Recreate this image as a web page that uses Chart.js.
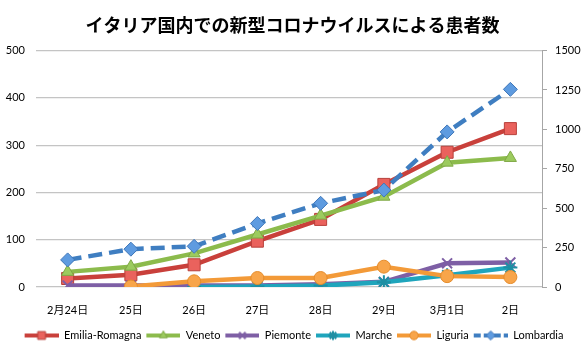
<!DOCTYPE html>
<html>
<head>
<meta charset="utf-8">
<script src="https://cdn.jsdelivr.net/npm/chart.js@4"></script>
<style>
  body { margin: 0; background: #fff; }
  #wrap { width: 585px; height: 345px; }
</style>
</head>
<body>
<div id="wrap"><canvas id="myChart" width="585" height="345"></canvas></div>
<script>
// x-axis labels (dates)
var days = ['2月24日', '25日', '26日', '27日', '28日', '29日', '3月1日', '2日'];
// patients per region (left axis)
var emilia = [18, 26, 47, 97, 143, 217, 285, 335];
var veneto = [32, 43, 71, 111, 151, 191, 263, 273];
var piemonte = [3, 3, 3, 3, 6, 11, 50, 52];
var marche = [null, null, 0, 1, 3, 10, 25, 41];
var liguria = [null, 1, 12, 19, 19, 43, 23, 21];
// Lombardia uses the right axis
var lombardia = [172, 240, 258, 403, 531, 615, 984, 1254];
// axis ticks
var leftMax = 500, leftStep = 100;
var rightMax = 1500, rightStep = 250;

var FONT = 'Lato, "Noto Sans CJK JP", sans-serif';

function series(label, data, color, fill, border, style, radius, axis, order, dash) {
    return {
        label: label,
        data: data,
        yAxisID: axis,
        borderColor: color,
        backgroundColor: fill,
        borderWidth: 4.5,
        borderDash: dash || [],
        pointStyle: style,
        pointRadius: radius,
        pointHoverRadius: radius,
        pointBackgroundColor: fill,
        pointBorderColor: border,
        pointBorderWidth: (style === 'crossRot' || style === 'star') ? 2 : 1,
        tension: 0,
        fill: false,
        spanGaps: false,
        order: order
    };
}

// small line+marker icon for the legend (3px blank on the left as item spacing)
function legendIcon(ds) {
    var c = document.createElement('canvas');
    c.width = 37; c.height = 14;
    var g = c.getContext('2d');
    g.strokeStyle = ds.borderColor;
    g.lineWidth = 4;
    g.setLineDash(ds.borderDash.length ? [7, 3] : []);
    g.beginPath();
    g.moveTo(3, 7); g.lineTo(37, 7);
    g.stroke();
    g.setLineDash([]);
    g.fillStyle = ds.pointBackgroundColor;
    g.strokeStyle = ds.pointBorderColor;
    g.lineWidth = ds.pointBorderWidth;
    Chart.helpers.drawPoint(g, {
        pointStyle: ds.pointStyle,
        radius: ds.pointRadius * 0.65,
        borderWidth: ds.pointBorderWidth,
        rotation: 0
    }, 20, 7);
    return c;
}

// nudge the legend row a little lower, closer to the bottom edge
var legendShift = {
    id: 'legendShift',
    afterLayout: function (chart) {
        chart.legend.top += 6;
        chart.legend.bottom += 6;
    }
};

var ctx = document.getElementById('myChart');

var myChart = new Chart(ctx, {
    type: 'line',
    data: {
        labels: days,
        datasets: [
            series('Emilia-Romagna', emilia, '#C9403B', '#EA625D', '#B8403B', 'rect', 8.5, 'y', 6),
            series('Veneto', veneto, '#8CBB4C', '#9CCB5E', '#7FA845', 'triangle', 7, 'y', 5),
            series('Piemonte', piemonte, '#7E5FA5', '#7E5FA5', '#7E5FA5', 'crossRot', 7, 'y', 4),
            series('Marche', marche, '#1FA5BC', '#2DAFC4', '#1E8FA3', 'star', 7, 'y', 3),
            series('Liguria', liguria, '#F39A38', '#F8A54A', '#E58C2C', 'circle', 6.5, 'y', 2),
            series('Lombardia', lombardia, '#3F7EC1', '#5E9BE0', '#3F76B8', 'rectRot', 7, 'y2', 1, [14, 7])
        ]
    },
    plugins: [legendShift],
    options: {
        responsive: false,
        animation: false,
        layout: { padding: { bottom: 0 } },
        plugins: {
            title: {
                display: true,
                text: 'イタリア国内での新型コロナウイルスによる患者数',
                color: '#000',
                font: { family: '"Noto Sans CJK JP", sans-serif', size: 18, weight: 'bold' },
                padding: { top: 14, bottom: 15 }
            },
            legend: {
                position: 'bottom',
                labels: {
                    usePointStyle: true,
                    pointStyleWidth: 37,
                    padding: 2,
                    color: '#000',
                    font: { family: FONT, size: 11 },
                    sort: function (a, b) { return a.datasetIndex - b.datasetIndex; },
                    generateLabels: function (chart) {
                        var items = Chart.defaults.plugins.legend.labels.generateLabels(chart);
                        items.forEach(function (it) {
                            it.pointStyle = legendIcon(chart.data.datasets[it.datasetIndex]);
                        });
                        return items;
                    }
                }
            },
            tooltip: { enabled: false }
        },
        scales: {
            x: {
                offset: true,
                grid: { display: false },
                border: { display: false },
                ticks: { color: '#000', font: { family: FONT, size: 11 }, padding: 9, maxRotation: 0 },
                afterFit: function (s) { s.height = 35; }
            },
            y: {
                position: 'left',
                min: 0,
                max: leftMax,
                ticks: { stepSize: leftStep, color: '#000', font: { family: FONT, size: 11 }, padding: 11 },
                grid: { color: '#c4c4c4', drawTicks: false, lineWidth: 1.2 },
                border: { display: false },
                afterFit: function (s) { s.width = 36; }
            },
            y2: {
                position: 'right',
                min: 0,
                max: rightMax,
                ticks: {
                    stepSize: rightStep, color: '#000', font: { family: FONT, size: 11 }, padding: 8,
                    format: { useGrouping: false }
                },
                grid: { drawOnChartArea: false, drawTicks: true, tickLength: 5, color: '#a6a6a6' },
                border: { display: true, color: '#a6a6a6' },
                afterFit: function (s) { s.width = 43; }
            }
        }
    }
});
</script>
</body>
</html>
